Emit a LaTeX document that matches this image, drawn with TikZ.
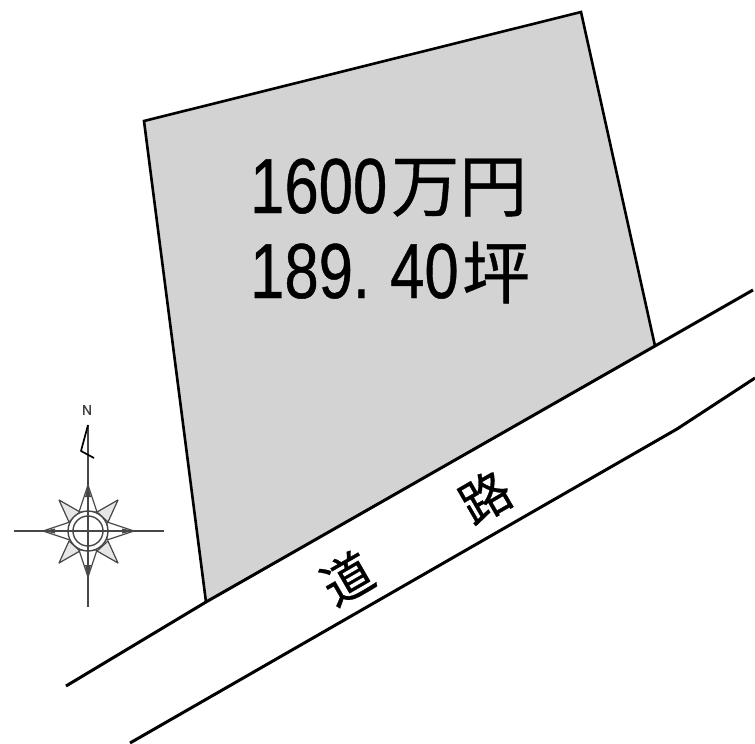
\documentclass[tikz,border=0pt]{standalone}
\usepackage{fontspec}
\setmainfont{Liberation Sans}
\newfontfamily\digf[FakeBold=0.6]{Liberation Sans}
\newfontfamily\cjkb[FakeBold=0.6]{Noto Sans CJK JP}
\definecolor{lotgray}{HTML}{D3D3D3}
\definecolor{rosegray}{HTML}{E6E6E6}
\colorlet{rosedark}{black!72}
\tikzset{
  lot/.style={fill=lotgray},
  lotedge/.style={draw=black,line width=2.6pt,line join=miter},
  roadline/.style={draw=black,line width=3pt,line join=round},
  rosefill/.style={fill=rosegray,draw=rosedark,line width=1.2pt,line join=round},
  roseline/.style={draw=rosedark,line width=2pt},
  digittext/.style={inner sep=0pt,anchor=base west},
  kanjitext/.style={inner sep=0pt,anchor=base west,font=\cjkb\fontsize{68}{68}\selectfont},
  roadtext/.style={inner sep=0pt,rotate=30,font=\cjkb\fontsize{50}{50}\selectfont}
}
\newcommand{\digs}[1]{\scalebox{0.79}[1]{\digf\fontsize{78}{78}\selectfont #1}}
\begin{document}
\begin{tikzpicture}[x=1pt,y=-1pt]
\useasboundingbox[fill=white] (0,0) rectangle (755,744);
\coordinate (a) at (144,121); \coordinate (b) at (581,12);
\coordinate (c) at (655,346); \coordinate (d) at (206,602);
\fill[lot] (a) -- (b) -- (c) -- (d) -- cycle;
\draw[lotedge] (d) -- (a) -- (b) -- (c);
\coordinate (ul) at (66,686); \coordinate (ur) at (753,290);
\coordinate (ll) at (130,743); \coordinate (lm) at (677,429); \coordinate (lr) at (755,378);
\draw[roadline] (ul) -- (d) -- (c) -- (ur);
\draw[roadline] (ll) -- (lm) -- (lr);
\node[digittext] (price) at (250,213) {\digs{1600}};
\node[kanjitext] (man) at (391,211) {万円};
\node[digittext] (area) at (250,298) {\digs{189.}};
\node[digittext] (areb) at (390,298) {\digs{40}};
\node[kanjitext] (tsubo) at (462,298) {坪};
\node[roadtext] (michi) at (347,578) {道};
\node[roadtext] (ro) at (485,497) {路};
% compass rose
\foreach \tx/\ty/\ax/\ay/\bx/\by in {59/500/80/512/69/522, 118/500/97/512/108/522, 59/563/69/541/80/551, 118/563/108/541/97/551}
  \draw[rosefill] (\tx,\ty) -- (\ax,\ay) -- (\bx,\by) -- cycle;
\foreach \tx/\ty/\ax/\ay/\bx/\by in {88/485/79/512/97/512, 88/577/79/550/97/550, 43/531/70/522/70/540, 134/531/107/522/107/540}
  \draw[rosefill,fill=white] (\tx,\ty) -- (\ax,\ay) -- (\bx,\by) -- cycle;
\draw[rosedark,line width=1.4pt,fill=white] (88,531) circle (20);
\draw[rosedark,line width=1.4pt] (88,531) circle (15);
\draw[roseline] (88,425) -- (88,607);
\draw[roseline] (14,531) -- (164,531);
\draw[black,line width=1.7pt,line join=round] (88,425) -- (81,451) -- (94,458);
\fill[rosedark] (88,485) -- (85,497) -- (91,497) -- cycle;
\fill[rosedark] (88,577) -- (85,565) -- (91,565) -- cycle;
\fill[rosedark] (43,531) -- (55,528.5) -- (55,533.5) -- cycle;
\fill[rosedark] (134,531) -- (122,528.5) -- (122,533.5) -- cycle;
\node[inner sep=0pt,font=\digf\fontsize{14}{14}\selectfont,text=black!75] (north) at (87,410) {N};
\end{tikzpicture}
\end{document}
